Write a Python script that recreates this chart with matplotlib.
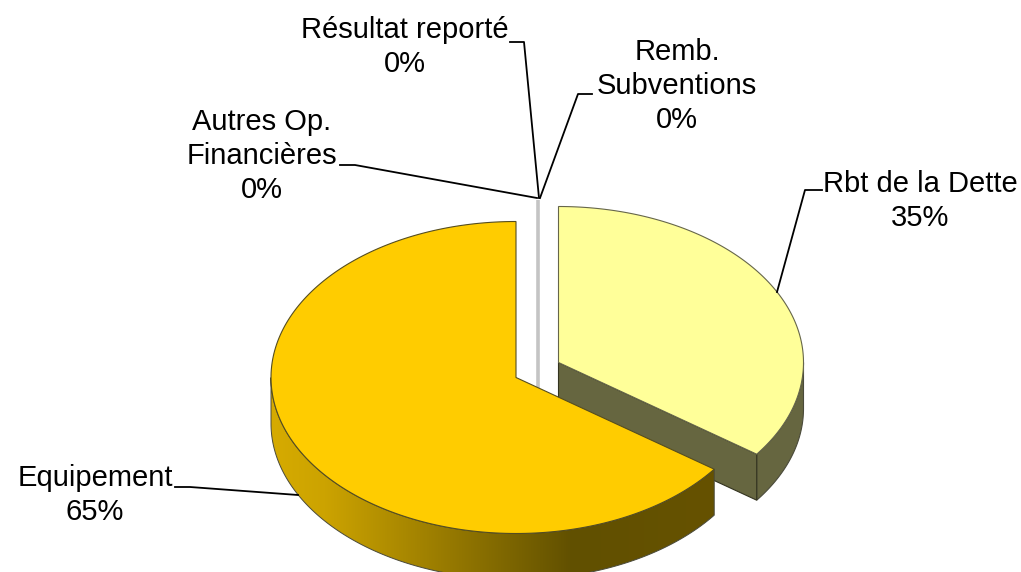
import numpy as np
import matplotlib
matplotlib.use('Agg')
import matplotlib.pyplot as plt
from matplotlib.patches import Polygon
from matplotlib.colors import LinearSegmentedColormap

labels = ['Rbt de la Dette', 'Equipement', 'Autres Op.\nFinancières', 'Résultat reporté', 'Remb.\nSubventions']
values = [35, 65, 0, 0, 0]

plt.rcParams['font.family'] = ['Liberation Sans', 'DejaVu Sans']

fig = plt.figure(figsize=(10.21, 5.72), dpi=100)
ax = fig.add_axes([0, 0, 1, 1])
ax.set_xlim(0, 1021)
ax.set_ylim(572, 0)
ax.axis('off')

RX = 245
RY = 156
DEPTH = 46
EDGE = '#4a4a3a'


def arc(cx, cy, a0, a1, n=200):
    # angles in degrees, clockwise from the top of the pie
    t = np.radians(np.linspace(a0, a1, n))
    return np.column_stack([cx + RX * np.sin(t), cy - RY * np.cos(t)])


####################################################################
# slice angles come from the values
angles = np.cumsum([0] + values) * 3.6
end_dette = angles[1]
end_equip = angles[2]

# centres of the exploded slices
c_dette = (558.5, 362.5)
c_equip = (516, 377.5)

down = np.array([0, DEPTH])

####################################################################
# Rbt de la Dette
top = arc(c_dette[0], c_dette[1], 0, end_dette)

outer = arc(c_dette[0], c_dette[1], 90, end_dette, 60)
ax.add_patch(Polygon(np.vstack([outer, (outer + down)[::-1]]), fc='#666640', ec=EDGE, lw=0.8, zorder=2))

corner = top[-1]
wall = np.array([c_dette, corner, corner + down, np.array(c_dette) + down])
ax.add_patch(Polygon(wall, fc='#666640', ec='#33331f', lw=0.8, zorder=2))

ax.add_patch(Polygon(np.vstack([[c_dette], top]), fc='#FFFF99', ec='#66664a', lw=0.8, zorder=3))

####################################################################
# the slices at 0% are only a thin grey sliver
ax.plot([537.5, 537.5], [200, 390], color='#C4C4C4', lw=2.6, solid_capstyle='butt', zorder=1)

####################################################################
# Equipement
top = arc(c_equip[0], c_equip[1], end_dette, end_equip)

outer = arc(c_equip[0], c_equip[1], end_dette, 270, 150)
side = Polygon(np.vstack([outer, (outer + down)[::-1]]), fc='none', ec=EDGE, lw=0.7, zorder=5)
cmap = LinearSegmentedColormap.from_list('side', [(0, '#D6AB00'), (0.12, '#CCA300'), (0.68, '#615000'), (1, '#665200')])
img = ax.imshow(np.linspace(0, 1, 256).reshape(1, -1), extent=[271, 714, 572, 370], cmap=cmap,
                aspect='auto', zorder=4)
ax.add_patch(side)
img.set_clip_path(side)
ax.set_xlim(0, 1021)
ax.set_ylim(572, 0)

ax.add_patch(Polygon(np.vstack([[c_equip], top]), fc='#FFCC00', ec='#554d20', lw=0.8, zorder=6))

####################################################################
# labels and leader lines
texts = [(920, 201, 0), (95, 495, 1), (262, 156, 2), (405, 47, 3), (677, 86, 4)]
for x, y, i in texts:
    ax.text(x, y, labels[i] + '\n' + str(values[i]) + '%', fontsize=21, ha='center', va='center',
            color='black', linespacing=1.27, zorder=8)

leaders = [
    ([822, 805, 777], [190, 190, 292]),
    ([175, 190, 298], [487, 487, 495]),
    ([340, 355, 537], [165, 165, 198]),
    ([510, 524, 539], [42, 42, 198]),
    ([592, 578, 540], [94, 94, 198]),
]
for xs, ys in leaders:
    ax.plot(xs, ys, color='black', lw=1.3, zorder=7)

fig.savefig('out.png', dpi=100)
